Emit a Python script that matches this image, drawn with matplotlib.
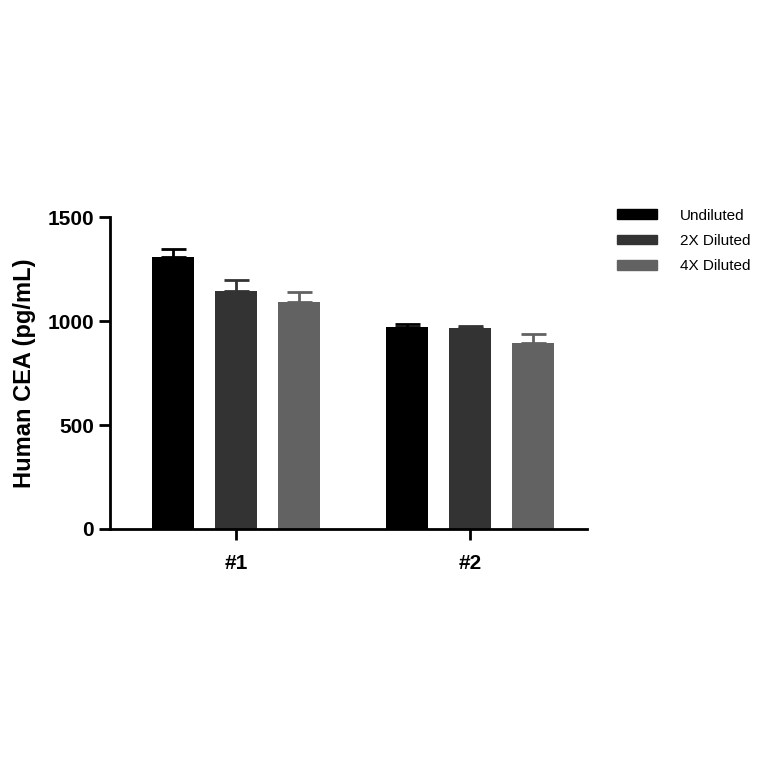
import matplotlib
matplotlib.use("Agg")
import matplotlib.pyplot as plt
from matplotlib.patches import Patch

groups = ["#1", "#2"]
series = ["Undiluted", "2X Diluted", "4X Diluted"]
values = [[1308, 971], [1144, 966], [1091, 894]]
errors = [[38, 15], [53, 10], [48, 44]]
colors = ["#000000", "#333333", "#626262"]

plt.rcParams['font.family'] = ['Liberation Sans', 'DejaVu Sans']
fig = plt.figure(figsize=(7.64, 7.64), dpi=100)
ax = fig.add_axes([0.144, 0.3076, 0.624, 0.408])
centers = [0, 3.714]
for i, s in enumerate(series):
    xs = [c + (i - 1) for c in centers]
    ax.bar(xs, values[i], width=0.667, color=colors[i], label=s)
    ax.errorbar(xs, values[i], yerr=[[0, 0], errors[i]], fmt='none',
                ecolor=colors[i], elinewidth=2, capsize=9, capthick=2)
ax.set_xlim(-2.0, 5.571)
ax.set_ylim(0, 1500)
ax.set_yticks([0, 500, 1000, 1500])
ax.set_xticks(centers)
ax.set_xticklabels(groups)
for sp in ['top', 'right']:
    ax.spines[sp].set_visible(False)
for sp in ['left', 'bottom']:
    ax.spines[sp].set_linewidth(2)
ax.tick_params(axis='both', width=2, length=8, labelsize=15)
for t in ax.get_xticklabels() + ax.get_yticklabels():
    t.set_fontweight('bold')
ax.tick_params(axis='x', pad=10)
ax.set_ylabel("Human CEA (pg/mL)", fontsize=17, fontweight='bold', labelpad=8)
handles = [Patch(color=c) for c in colors]
fig.legend(handles, series, loc='upper left', bbox_to_anchor=(0.79, 0.745),
           frameon=False, fontsize=11, handlelength=2.6, handleheight=0.6,
           labelspacing=0.75, handletextpad=1.5)
fig.savefig("out.png", dpi=100)
